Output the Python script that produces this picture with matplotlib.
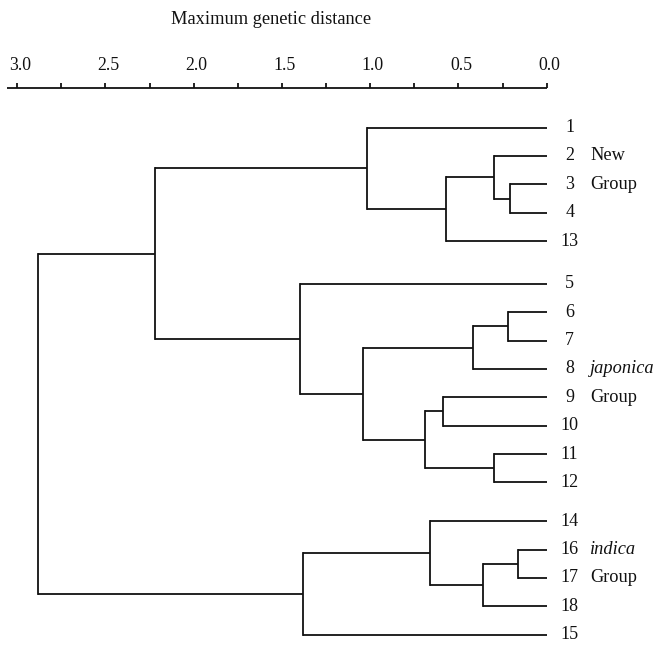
import matplotlib
matplotlib.use("Agg")
import matplotlib.pyplot as plt

# ---------------- data ----------------
leaf_labels = ["1", "2", "3", "4", "13", "5", "6", "7", "8", "9", "10",
               "11", "12", "14", "16", "17", "18", "15"]
# merges: (child_a, child_b, height); leaves referenced by label, clusters by name
merges = [
    ("3", "4", 0.21, "c34"),
    ("2", "c34", 0.30, "c234"),
    ("c234", "13", 0.57, "c23413"),
    ("1", "c23413", 1.02, "cNew"),
    ("6", "7", 0.22, "c67"),
    ("c67", "8", 0.42, "c678"),
    ("9", "10", 0.59, "c910"),
    ("11", "12", 0.30, "c1112"),
    ("c910", "c1112", 0.69, "c9to12"),
    ("c678", "c9to12", 1.04, "c6to12"),
    ("5", "c6to12", 1.40, "cJap"),
    ("cNew", "cJap", 2.22, "cNJ"),
    ("16", "17", 0.16, "c1617"),
    ("c1617", "18", 0.36, "c161718"),
    ("14", "c161718", 0.66, "cInd"),
    ("cInd", "15", 1.38, "cInd15"),
    ("cNJ", "cInd15", 2.88, "root"),
]
tick_values = [3.0, 2.5, 2.0, 1.5, 1.0, 0.5, 0.0]
minor_tick_values = [2.75, 2.25, 1.75, 1.25, 0.75, 0.25]
groups = [("New", "Group", "2", "3", "normal"),
          ("japonica", "Group", "8", "9", "italic"),
          ("indica", "Group", "16", "17", "italic")]

# ---------------- layout ----------------
extra_gap = {"5": 0.5, "14": 0.36}
W, H = 659, 646
fig = plt.figure(figsize=(W / 100, H / 100), dpi=100)
ax = fig.add_axes([0, 0, 1, 1])
px_per_unit = 176.5
x0_px = 546.7
ax.set_xlim(x0_px / px_per_unit, -(W - x0_px) / px_per_unit)
leaf_step = 28.4
leaf0_px = 127.5
ax.set_ylim((H - leaf0_px) / leaf_step, -leaf0_px / leaf_step)
ax.axis("off")

serif = ["Liberation Serif", "DejaVu Serif"]
lc = "#111111"
lw = 1.3

# leaf positions
ypos = {}
y = 0.0
for i, lab in enumerate(leaf_labels):
    if i > 0:
        y += 1 + extra_gap.get(lab, 0)
    ypos[lab] = y
xpos = {lab: 0.0 for lab in leaf_labels}

for a, b, h, name in merges:
    for c in (a, b):
        ax.plot([xpos[c], h], [ypos[c], ypos[c]], color=lc, lw=lw,
                solid_capstyle="butt")
    ax.plot([h, h], [ypos[a], ypos[b]], color=lc, lw=lw, solid_capstyle="projecting")
    xpos[name] = h
    ypos[name] = (ypos[a] + ypos[b]) / 2

for lab in leaf_labels:
    ax.text(-0.13, ypos[lab], lab, ha="center", va="center",
            fontsize=13, family=serif, color="#111111")

for t1, t2, l1, l2, style in groups:
    ax.text(-0.245, ypos[l1], t1, ha="left", va="center", fontsize=13.2,
            family=serif, style=style, color="#111111")
    ax.text(-0.245, ypos[l2], t2, ha="left", va="center", fontsize=13.2,
            family=serif, color="#111111")

# top axis
axis_y = (88 - leaf0_px) / leaf_step
tick_len = 5 / leaf_step
ax.plot([3.055, 0.0], [axis_y, axis_y], color=lc, lw=1.3, solid_capstyle="butt")
for v in tick_values + minor_tick_values:
    ax.plot([v, v], [axis_y, axis_y - tick_len], color=lc, lw=1.3,
            solid_capstyle="butt")
for v in tick_values:
    ax.text(v - 0.015, axis_y - 18 / leaf_step, f"{v:.1f}", ha="center",
            va="baseline", fontsize=12.8, family=serif, color="#111111")
ax.text(1.56, (19 - leaf0_px) / leaf_step, "Maximum genetic distance",
        ha="center", va="center", fontsize=13.2, family=serif, color="#111111")

fig.savefig("out.png", dpi=100)
